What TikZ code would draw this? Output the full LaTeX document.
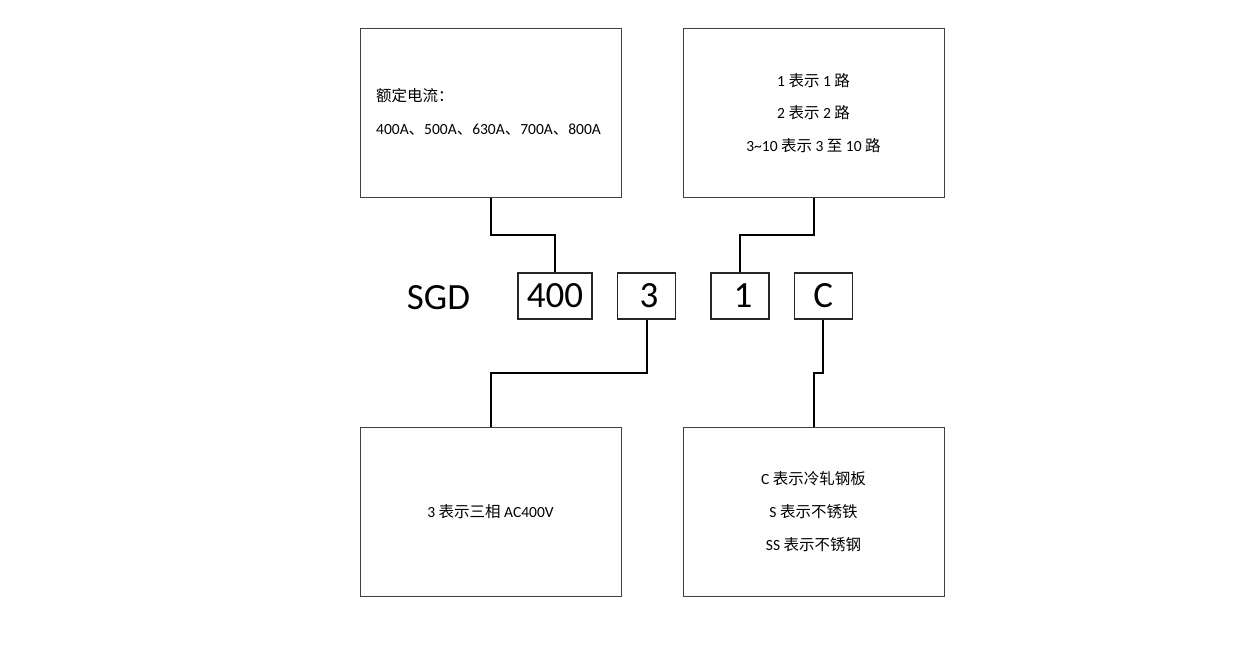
\documentclass[tikz,border=0pt]{standalone}
\usepackage{fontspec}
\setmainfont{Carlito}
\newfontfamily\cjk{Noto Sans CJK SC}
\usepackage{tikz}
\usetikzlibrary{positioning}

\tikzset{
  bigbox/.style={draw=black!75, line width=1pt, minimum width=261pt, minimum height=169pt, inner sep=0pt},
  codebox/.style={draw=black!85, line width=1.4pt, minimum width=58pt, minimum height=46pt, inner sep=0pt, font=\fontsize{37}{42}\selectfont},
  info/.style={inner sep=0pt, font=\fontsize{15.5}{18}\selectfont},
  wire/.style={line width=2pt, black}
}

\begin{document}
\begin{tikzpicture}[x=1pt,y=-1pt]
    \useasboundingbox (0,0) rectangle (1239,656);
    % outer boxes
    \node[bigbox] (rated) at (490.5,112.5) {};
    \node[bigbox] (ways) at (813.5,112.5) {};
    \node[bigbox] (phase) at (490.5,511.5) {};
    \node[bigbox] (plate) at (813.5,511.5) {};
    % code line
    \node[font=\fontsize{37}{42}\selectfont, inner sep=0pt] (sgd) at (438.5,298) {SGD};
    \node[codebox, minimum width=74pt] (c400) at (555,296) {\raisebox{-2pt}{400}};
    \node[codebox] (c3) at (646.5,296) {\raisebox{-2pt}{\hspace{5pt}3}};
    \node[codebox] (c1) at (740,296) {\raisebox{-2pt}{\hspace{6pt}1}};
    \node[codebox] (cC) at (823.3,296) {\raisebox{-2pt}{C}};
    % texts
    \node[info, anchor=west] (rated1) at (376,96) {\cjk 额定电流：};
    \node[info, anchor=west] (rated2) at (376,130) {400A{\cjk 、}500A{\cjk 、}630A{\cjk 、}700A{\cjk 、}800A};
    \node[info] (ways1) at (813.5,81) {1 {\cjk 表示} 1 {\cjk 路}};
    \node[info] (ways2) at (813.5,113) {2 {\cjk 表示} 2 {\cjk 路}};
    \node[info] (ways3) at (813.5,146) {3\textasciitilde10 {\cjk 表示} 3 {\cjk 至} 10 {\cjk 路}};
    \node[info] (phase1) at (490.5,512) {3 {\cjk 表示三相} AC400V};
    \node[info] (plate1) at (813.5,479) {C {\cjk 表示冷轧钢板}};
    \node[info] (plate2) at (813.5,512) {S {\cjk 表示不锈铁}};
    \node[info] (plate3) at (813.5,545) {SS {\cjk 表示不锈钢}};
    % connectors
    \coordinate (upjog) at (0,234.5);
    \coordinate (lowjog) at (0,372.5);
    \draw[wire] (rated.south) -- (rated.south |- upjog) -| (c400.north);
    \draw[wire] (ways.south) -- (ways.south |- upjog) -| (c1.north);
    \draw[wire] (c3.south) -- (c3.south |- lowjog) -| (phase.north);
    \draw[wire] (cC.south) -- (cC.south |- lowjog) -| (plate.north);
\end{tikzpicture}
\end{document}
